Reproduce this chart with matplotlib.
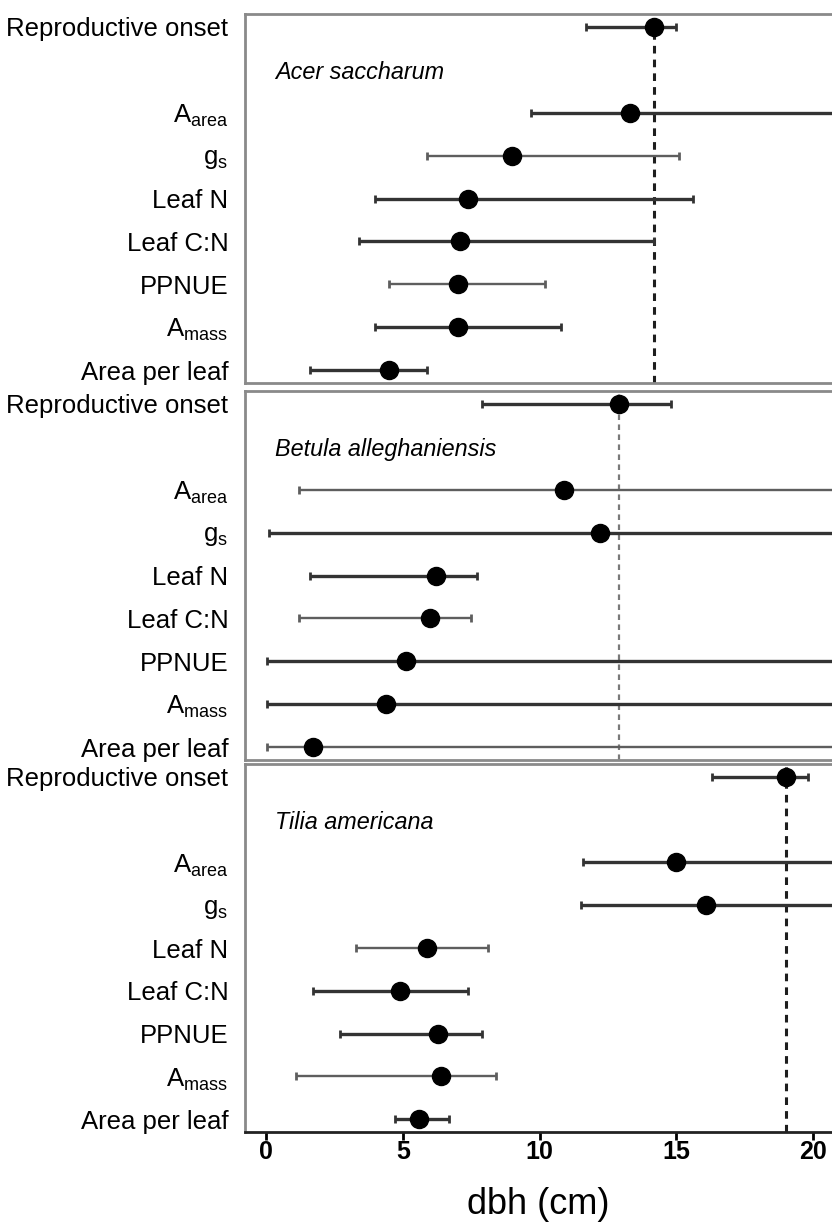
import matplotlib
matplotlib.use("Agg")
import matplotlib.pyplot as plt

plt.rcParams['font.family'] = ['Liberation Sans', 'DejaVu Sans']
plt.rcParams['mathtext.fontset'] = 'custom'
plt.rcParams['mathtext.rm'] = 'Liberation Sans'
plt.rcParams['mathtext.it'] = 'Liberation Sans:italic'

traits = ["Reproductive onset", r"A$_{\mathrm{area}}$", r"g$_{\mathrm{s}}$", "Leaf N",
          "Leaf C:N", "PPNUE", r"A$_{\mathrm{mass}}$", "Area per leaf"]
trait_rows = [9, 7, 6, 5, 4, 3, 2, 1]

species = ["Acer saccharum", "Betula alleghaniensis", "Tilia americana"]

# threshold dbh estimates with lower / upper confidence limits (cm)
acer_est = [14.2, 13.3, 9.0, 7.4, 7.1, 7.0, 7.0, 4.5]
acer_lo = [11.7, 9.7, 5.9, 4.0, 3.4, 4.5, 4.0, 1.6]
acer_hi = [15.0, 25.0, 15.1, 15.6, 14.2, 10.2, 10.8, 5.9]

betula_est = [12.9, 10.9, 12.2, 6.2, 6.0, 5.1, 4.4, 1.7]
betula_lo = [7.9, 1.2, 0.1, 1.6, 1.2, 0.05, 0.05, 0.05]
betula_hi = [14.8, 25.0, 25.0, 7.7, 7.5, 25.0, 25.0, 25.0]

tilia_est = [19.0, 15.0, 16.1, 5.9, 4.9, 6.3, 6.4, 5.6]
tilia_lo = [16.3, 11.6, 11.5, 3.3, 1.7, 2.7, 1.1, 4.7]
tilia_hi = [19.8, 25.0, 25.0, 8.1, 7.4, 7.9, 8.4, 6.7]

estimates = [acer_est, betula_est, tilia_est]
lows = [acer_lo, betula_lo, tilia_lo]
highs = [acer_hi, betula_hi, tilia_hi]

xticks = [0, 5, 10, 15, 20]

# bar rendering: 1 = dark heavy line, 0 = lighter thin line
bar_heavy = [
    [1, 1, 0, 1, 1, 0, 1, 1],
    [1, 0, 1, 1, 0, 1, 1, 0],
    [1, 1, 1, 0, 1, 1, 0, 1],
]

fig = plt.figure(figsize=(8.32, 12.29), dpi=100)
W, H = 832.0, 1229.0
left_px = 245
panels_px = [(14, 383), (391, 760), (764, 1132)]
dash_styles = [dict(color='#1e1e1e', lw=2.2), dict(color='#7a7a7a', lw=1.6), dict(color='#1e1e1e', lw=2.2)]

for i, (top, bot) in enumerate(panels_px):
    ax = fig.add_axes([left_px / W, 1 - bot / H, 1 - left_px / W, (bot - top) / H])
    est, lo, hi = estimates[i], lows[i], highs[i]
    for y, e, l, h, hv in zip(trait_rows, est, lo, hi, bar_heavy[i]):
        ecol = '#333333' if hv else '#5e5e5e'
        elw = 2.4 if hv else 1.7
        ax.errorbar([e], [y], xerr=[[e - l], [h - e]], fmt='o', color='black',
                    ecolor=ecol, elinewidth=elw, capsize=3, capthick=2,
                    markersize=13, zorder=3)
    ax.axvline(est[0], linestyle=(0, (2.5, 2)), zorder=2, **dash_styles[i])
    ax.text(0.33, 7.93, species[i], style='italic', fontsize=16.8, va='center', ha='left')
    ax.set_xlim(-0.77, 20.69)
    ax.set_ylim(0.7, 9.3)
    ax.set_yticks(trait_rows)
    ax.set_yticklabels(traits, fontsize=18.5)
    ax.tick_params(axis='y', length=0, pad=12)
    ax.spines['right'].set_visible(False)
    for s in ['left', 'top', 'bottom']:
        ax.spines[s].set_color('#8a8a8a')
        ax.spines[s].set_linewidth(2)
    if i < 2:
        ax.set_xticks([])
    else:
        ax.spines['bottom'].set_color('#222222')
        ax.set_xticks(xticks)
        ax.set_xticklabels([str(t) for t in xticks], fontsize=18, fontweight='bold')
        ax.tick_params(axis='x', length=6, width=2, direction='out', pad=0)
        ax.set_xlabel("dbh (cm)", fontsize=26, labelpad=16)

fig.savefig("out.png", dpi=100)
